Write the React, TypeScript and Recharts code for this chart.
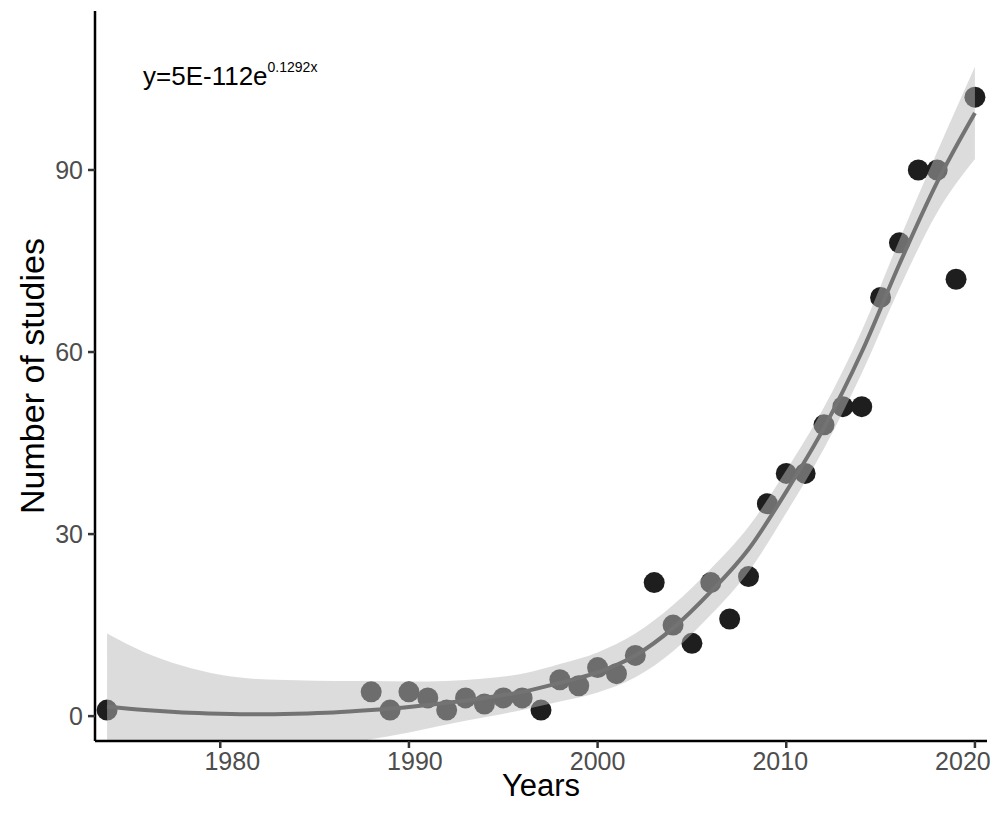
import {
  ComposedChart,
  Scatter,
  Line,
  Area,
  XAxis,
  YAxis,
} from "recharts";

// observed counts per year
const studyYears = [
  1974, 1988, 1989, 1990, 1991, 1992, 1993, 1994, 1995, 1996, 1997, 1998,
  1999, 2000, 2001, 2002, 2003, 2004, 2005, 2006, 2007, 2008, 2009, 2010,
  2011, 2012, 2013, 2014, 2015, 2016, 2017, 2018, 2019, 2020,
];
const studyCounts = [
  1, 4, 1, 4, 3, 1, 3, 2, 3, 3, 1, 6, 5, 8, 7, 10, 22, 15, 12, 22, 16, 23, 35,
  40, 40, 48, 51, 51, 69, 78, 90, 90, 72, 102,
];

// smoothed fit and its confidence band
const fitYears = [
  1974, 1976, 1978, 1980, 1982, 1984, 1986, 1988, 1990, 1992, 1994, 1996,
  1998, 2000, 2002, 2004, 2006, 2008, 2010, 2012, 2014, 2016, 2018, 2020,
];
const fitValues = [
  1.6, 1.0, 0.6, 0.4, 0.3, 0.4, 0.6, 1.0, 1.5, 2.2, 3.0, 4.0, 5.5, 7.2, 10,
  14.5, 20.5, 27.5, 37, 47.5, 60, 74.5, 88, 99.4,
];
const fitLower = [
  -10.4, -8.5, -7.1, -6.0, -5.5, -5.1, -4.6, -3.8, -2.7, -1.4, -0.2, 1.0, 2.4,
  3.9, 6.4, 10.7, 16.7, 23.8, 33.5, 44.1, 56.5, 70.5, 83, 91.8,
];
const fitUpper = [
  13.6, 10.5, 8.3, 6.8, 6.1, 5.9, 5.8, 5.8, 5.7, 5.8, 6.2, 7.0, 8.6, 10.5,
  13.6, 18.3, 24.3, 31.2, 40.5, 50.9, 63.5, 78.5, 93, 107,
];

const xTicks = [1980, 1990, 2000, 2010, 2020];
const yTicks = [0, 30, 60, 90];

const points = studyYears.map((year, i) => ({ year, count: studyCounts[i] }));
const curve = fitYears.map((year, i) => ({
  year,
  fit: fitValues[i],
  band: [fitLower[i], fitUpper[i]],
}));

const FONT = "'Liberation Sans', Arial, sans-serif";

const Dot = (props: any) => {
  const { cx, cy } = props;
  if (cx == null || cy == null) return null;
  return <circle cx={cx} cy={cy} r={10.5} fill="#1e1e1e" />;
};

// the year labels in the source sit a little toward the middle of the axis
const YearTick = (props: any) => {
  const { x, y, payload } = props;
  const shift = (payload.value - 2000) * -0.6;
  return (
    <text
      x={x + shift}
      y={y}
      dy="0.71em"
      textAnchor="middle"
      fill="#4d4d4d"
      fontSize={25}
      fontFamily={FONT}
    >
      {payload.value}
    </text>
  );
};

export default function App() {
  return (
    <div style={{ position: "relative", width: 990, height: 800, fontFamily: FONT }}>
      <ComposedChart
        width={990}
        height={800}
        data={curve}
        margin={{ top: 3, right: 11, bottom: 0, left: 0 }}
      >
        <XAxis
          dataKey="year"
          type="number"
          domain={[1973.36, 2020.64]}
          ticks={xTicks}
          allowDataOverflow
          height={67}
          axisLine={{ stroke: "#000", strokeWidth: 2.5 }}
          tickLine={{ stroke: "#333", strokeWidth: 2.5 }}
          tickSize={7}
          tickMargin={4}
          tick={YearTick}
          label={{
            value: "Years",
            position: "insideBottom",
            offset: 12,
            style: { fill: "#000", fontSize: 31, fontFamily: FONT },
          }}
        />
        <YAxis
          type="number"
          domain={[-4.1, 116.2]}
          ticks={yTicks}
          allowDataOverflow
          width={87}
          axisLine={{ stroke: "#000", strokeWidth: 2.5 }}
          tickLine={{ stroke: "#333", strokeWidth: 2.5 }}
          tickSize={7}
          tickMargin={5}
          tick={{ fill: "#4d4d4d", fontSize: 25, fontFamily: FONT }}
          label={{
            value: "Number of studies",
            angle: -90,
            position: "insideLeft",
            offset: 24,
            style: { textAnchor: "middle", fill: "#000", fontSize: 34, fontFamily: FONT },
          }}
        />
        <Scatter
          data={points}
          dataKey="count"
          shape={Dot}
          zIndex={50}
          isAnimationActive={false}
        />
        <Area
          dataKey="band"
          type="monotone"
          stroke="none"
          fill="#bbbbbb"
          fillOpacity={0.51}
          zIndex={100}
          isAnimationActive={false}
        />
        <Line
          dataKey="fit"
          type="monotone"
          stroke="#737373"
          strokeWidth={4}
          dot={false}
          activeDot={false}
          zIndex={400}
          isAnimationActive={false}
        />
      </ComposedChart>
      <div
        style={{
          position: "absolute",
          left: 135,
          top: 55,
          fontSize: 26,
          color: "#000",
          whiteSpace: "nowrap",
          lineHeight: 1,
        }}
      >
        y=5E-112e
        <span style={{ fontSize: 14, position: "relative", top: -13 }}>0.1292x</span>
      </div>
    </div>
  );
}
